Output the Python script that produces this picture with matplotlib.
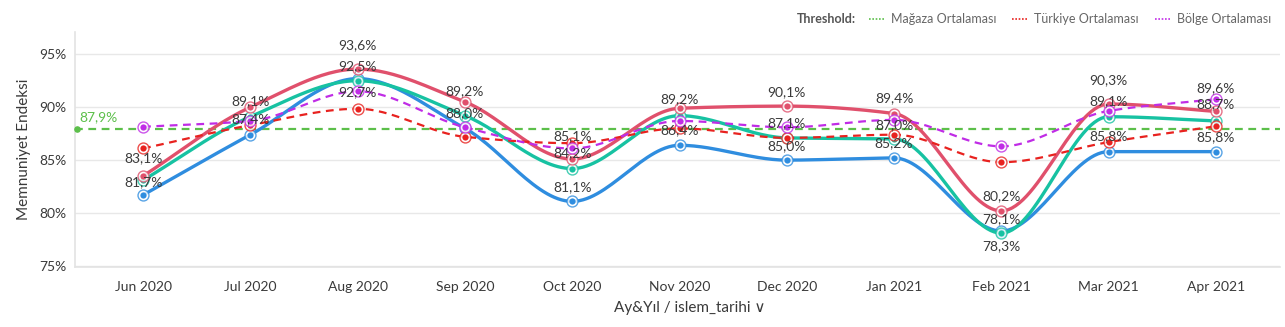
import matplotlib
matplotlib.use('AGG')

import matplotlib.pyplot as plt
import numpy as np
from matplotlib.lines import Line2D

plt.rcParams['font.family'] = ['Lato', 'DejaVu Sans']

months = ['Jun 2020', 'Jul 2020', 'Aug 2020', 'Sep 2020', 'Oct 2020', 'Nov 2020',
          'Dec 2020', 'Jan 2021', 'Feb 2021', 'Mar 2021', 'Apr 2021']

# solid series (store level)
pink_vals = [83.5, 90.0, 93.6, 90.5, 85.1, 89.9, 90.1, 89.4, 80.2, 90.3, 89.6]
teal_vals = [83.1, 89.1, 92.5, 89.2, 84.2, 89.2, 87.1, 87.0, 78.1, 89.1, 88.7]
blue_vals = [81.7, 87.4, 92.7, 88.0, 81.1, 86.4, 85.0, 85.2, 78.3, 85.8, 85.8]

# threshold series
turkiye_vals = [86.1, 88.3, 89.85, 87.2, 86.6, 88.0, 87.1, 87.4, 84.8, 86.7, 88.2]
bolge_vals = [88.15, 88.7, 91.5, 88.1, 86.1, 88.7, 88.1, 88.8, 86.3, 89.65, 90.75]
magaza_avg = 87.9

y_ticks = [75, 80, 85, 90, 95]

PINK = '#e0506c'
TEAL = '#17c2a2'
BLUE = '#2f8ddf'
RED = '#e8221f'
PURPLE = '#c02ce6'
GREEN = '#5cbf4a'
TXT = '#3a3a3a'


def monotone(x, y, n=30):
    # monotone cubic hermite, same shape as d3 curveMonotoneX
    x = np.asarray(x, float)
    y = np.asarray(y, float)
    h = np.diff(x)
    d = np.diff(y) / h
    m = np.zeros_like(y)
    m[0], m[-1] = d[0], d[-1]
    for i in range(1, len(y) - 1):
        if d[i - 1] * d[i] <= 0:
            m[i] = 0
        else:
            m[i] = 3 * (h[i - 1] + h[i]) / ((2 * h[i] + h[i - 1]) / d[i - 1] + (h[i] + 2 * h[i - 1]) / d[i])
    xs, ys = [], []
    for i in range(len(y) - 1):
        t = np.linspace(0, 1, n, endpoint=False)
        h00 = 2 * t**3 - 3 * t**2 + 1
        h10 = t**3 - 2 * t**2 + t
        h01 = -2 * t**3 + 3 * t**2
        h11 = t**3 - t**2
        xs.append(x[i] + t * h[i])
        ys.append(h00 * y[i] + h10 * h[i] * m[i] + h01 * y[i + 1] + h11 * h[i] * m[i + 1])
    xs.append([x[-1]])
    ys.append([y[-1]])
    return np.concatenate(xs), np.concatenate(ys)


def fmt(v):
    return '{:.1f}%'.format(v).replace('.', ',')


fig = plt.figure(figsize=(12.85, 3.27), dpi=100)
ax = fig.add_axes([0.0584, 0.1835, 0.938, 0.7185])
x = np.arange(len(months))


def draw_series(vals, color, lw, ls, z):
    sx, sy = monotone(x, vals)
    ax.plot(sx, sy, color=color, lw=lw, ls=ls, zorder=z, solid_capstyle='round',
            dash_capstyle='butt')
    ax.scatter(x, vals, s=62, facecolor='white', edgecolor=color, linewidth=1.0,
               alpha=0.8, zorder=z + 0.1)
    ax.scatter(x, vals, s=20, color=color, zorder=z + 0.2, linewidth=0)


draw_series(blue_vals, BLUE, 2.4, '-', 3)
draw_series(teal_vals, TEAL, 2.4, '-', 3.3)
draw_series(pink_vals, PINK, 2.4, '-', 3.6)
draw_series(turkiye_vals, RED, 1.6, (0, (3.5, 2.5)), 4)
draw_series(bolge_vals, PURPLE, 1.6, (0, (3.5, 2.5)), 4.3)

# store average threshold
ax.axhline(magaza_avg, color=GREEN, lw=1.6, ls=(0, (3.5, 2.5)), zorder=2.5)
ax.scatter([-0.615], [magaza_avg], s=14, color=GREEN, zorder=2.6, clip_on=False)
ax.text(-0.59, magaza_avg + 0.55, fmt(magaza_avg), color=GREEN, fontsize=10,
        ha='left', va='bottom', zorder=6)

# value labels: (offset in pixels, None = hidden)
pink_off = [None, None, 24, None, 23, None, 14, 15, 15, 24, 23]
teal_off = [22, 16, 15, 24, 15, 16, 15, 14, 14, 16, 17]
blue_off = [13, 16, -14, 15, 14, 15, 14, 15, -15, 15, 14]
for vals, offs in [(pink_vals, pink_off), (teal_vals, teal_off), (blue_vals, blue_off)]:
    for xi, v, o in zip(x, vals, offs):
        if o is None:
            continue
        ax.annotate(fmt(v), (xi, v), xytext=(0, o), textcoords='offset pixels',
                    ha='center', va='center', fontsize=10, color=TXT, zorder=7)

ax.set_xlim(-0.634, 10.6)
ax.set_ylim(74.9, 97.1)
ax.set_yticks(y_ticks)
ax.set_yticklabels(['{}%'.format(t) for t in y_ticks])
ax.set_xticks(x)
ax.set_xticklabels(months)
ax.tick_params(axis='both', length=0, labelsize=10, labelcolor=TXT)
ax.tick_params(axis='x', pad=10)
ax.tick_params(axis='y', pad=6)
ax.grid(axis='y', color='#e8e8e8', lw=1)
ax.set_axisbelow(True)
for s in ['top', 'right']:
    ax.spines[s].set_visible(False)
ax.spines['left'].set_color('#e3e3e3')
ax.spines['bottom'].set_color('#e3e3e3')
ax.spines['left'].set_linewidth(1.2)
ax.spines['bottom'].set_linewidth(1.2)

ax.set_ylabel('Memnuniyet Endeksi', fontsize=11, color=TXT, labelpad=6)
ax.set_xlabel('Ay&Yıl / islem_tarihi ∨', fontsize=11, color=TXT)
ax.xaxis.set_label_coords(0.51, -0.145)

# threshold legend, top right
ly = 1 - 19 / 327
fig.text(797 / 1285, ly, 'Threshold:', fontsize=9, fontweight='bold', color='#555555',
         ha='left', va='center')
for x0, col, name in [(869, GREEN, 'Mağaza Ortalaması'),
                      (1012, RED, 'Türkiye Ortalaması'),
                      (1155, PURPLE, 'Bölge Ortalaması')]:
    fig.add_artist(Line2D([x0 / 1285, (x0 + 16) / 1285], [ly, ly], color=col, lw=1.2,
                          ls=(0, (1, 1))))
    fig.text((x0 + 22) / 1285, ly, name, fontsize=9, color='#666666', ha='left', va='center')

fig.savefig('out.png', dpi=100)
